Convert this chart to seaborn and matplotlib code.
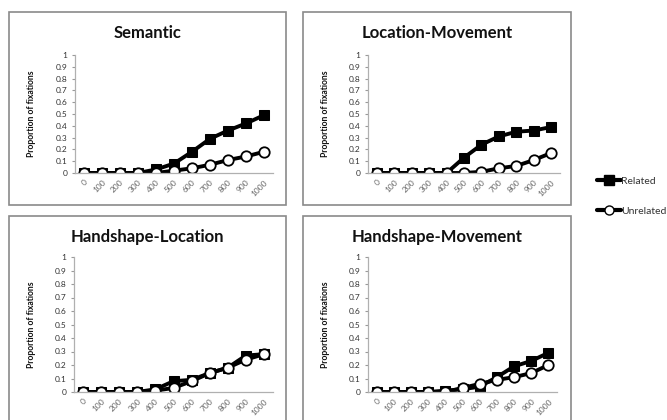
import matplotlib
matplotlib.use("Agg")
import matplotlib.pyplot as plt
import seaborn as sns
import pandas as pd
from matplotlib.patches import Rectangle
from matplotlib.lines import Line2D

sns.set_theme(style="white")
plt.rcParams["font.family"] = ["Lato", "DejaVu Sans"]

# time bins (ms)
times = ["0", "100", "200", "300", "400", "500", "600", "700", "800", "900", "1000"]

titles = ["Semantic", "Location-Movement", "Handshape-Location", "Handshape-Movement"]

semantic_related = [0, 0, 0, 0, 0.03, 0.08, 0.18, 0.29, 0.36, 0.42, 0.49]
semantic_unrelated = [0, 0, 0, 0, 0, 0.02, 0.04, 0.07, 0.11, 0.14, 0.18]

locmov_related = [0, 0, 0, 0, 0, 0.13, 0.24, 0.31, 0.35, 0.36, 0.39]
locmov_unrelated = [0, 0, 0, 0, 0, 0, 0.01, 0.04, 0.06, 0.11, 0.17]

handloc_related = [0, 0, 0, 0, 0.02, 0.08, 0.09, 0.14, 0.18, 0.27, 0.28]
handloc_unrelated = [0, 0, 0, 0, 0.01, 0.03, 0.08, 0.14, 0.18, 0.24, 0.28]

handmov_related = [0, 0, 0, 0, 0.01, 0.02, 0.04, 0.11, 0.19, 0.23, 0.29]
handmov_unrelated = [0, 0, 0, 0, 0, 0.03, 0.06, 0.09, 0.11, 0.14, 0.20]

series = [
    (semantic_related, semantic_unrelated),
    (locmov_related, locmov_unrelated),
    (handloc_related, handloc_unrelated),
    (handmov_related, handmov_unrelated),
]

W, H = 667, 420
fig = plt.figure(figsize=(W / 100, H / 100), dpi=100)


def px_rect(x0, y0, x1, y1):
    # pixel box (top-left origin) -> figure fraction
    return [x0 / W, 1 - y1 / H, (x1 - x0) / W, (y1 - y0) / H]


# panel frames
frames = [(9, 12, 286, 205), (303, 12, 571, 205), (9, 216, 286, 421), (303, 216, 571, 421)]
for x0, y0, x1, y1 in frames:
    r = px_rect(x0, y0, x1, y1)
    fig.patches.append(Rectangle((r[0], r[1]), r[2], r[3], transform=fig.transFigure,
                                 fill=False, edgecolor="#8a8a8a", linewidth=1.2))

# axes boxes: left, top(y=1), right, bottom(y=0)
axes_px = [(75, 55, 273, 173), (368, 55, 560, 173), (74, 257, 273, 392), (368, 257, 557, 392)]
title_y = [33, 33, 237, 237]
ylabel_x = [32, 325, 32, 325]

for i, (x0, y0, x1, y1) in enumerate(axes_px):
    ax = fig.add_axes(px_rect(x0, y0, x1, y1))
    rel, unrel = series[i]
    df = pd.DataFrame({"time": times * 2,
                       "prop": rel + unrel,
                       "cond": ["Related"] * 11 + ["Unrelated"] * 11})
    sns.lineplot(data=df[df.cond == "Related"], x="time", y="prop", ax=ax,
                 color="black", linewidth=2.8, marker="s", markersize=7.5,
                 markerfacecolor="black", markeredgecolor="black", sort=False)
    sns.lineplot(data=df[df.cond == "Unrelated"], x="time", y="prop", ax=ax,
                 color="black", linewidth=2.8, marker="o", markersize=7.5,
                 markerfacecolor="white", markeredgecolor="black",
                 markeredgewidth=1.3, sort=False)
    ax.set_xlim(-0.5, 10.5)
    ax.set_ylim(0, 1)
    ax.set_yticks([k / 10 for k in range(11)])
    ax.set_yticklabels(["0", "0.1", "0.2", "0.3", "0.4", "0.5", "0.6", "0.7", "0.8", "0.9", "1"])
    ax.set_xticks(range(11))
    ax.set_xticklabels(times, rotation=45, ha="right", rotation_mode="anchor")
    ax.tick_params(axis="y", labelsize=6, colors="#9a9a9a", labelcolor="#333333",
                   length=2.5, width=0.8, pad=3, left=True, direction="out")
    ax.tick_params(axis="x", labelsize=6, colors="#9a9a9a", labelcolor="#666666",
                   length=0, pad=4)
    ax.set_xlabel("")
    ax.set_ylabel("")
    for s in ["top", "right"]:
        ax.spines[s].set_visible(False)
    for s in ["left", "bottom"]:
        ax.spines[s].set_color("#b0b0b0")
        ax.spines[s].set_linewidth(0.9)
    ax.patch.set_alpha(0)
    # title centred on its frame, y label beside the axis
    fx0, _, fx1, _ = frames[i]
    fig.text(((fx0 + fx1) / 2) / W, 1 - title_y[i] / H, titles[i], ha="center", va="center",
             fontsize=12, fontweight="bold", color="#111111")
    fig.text(ylabel_x[i] / W, 1 - ((y0 + y1) / 2) / H, "Proportion of fixations",
             rotation=90, ha="center", va="center", fontsize=6.2, fontweight="bold",
             color="#111111")

# legend
handles = [
    Line2D([], [], color="black", linewidth=3, marker="s", markersize=6.5,
           markerfacecolor="black", markeredgecolor="black"),
    Line2D([], [], color="black", linewidth=3, marker="o", markersize=6.5,
           markerfacecolor="white", markeredgecolor="black"),
]
fig.legend(handles, ["Related", "Unrelated"], loc="center left",
           bbox_to_anchor=(588 / W, 1 - 196 / H), frameon=False, fontsize=7.5,
           handlelength=2.3, handletextpad=0.0, labelspacing=2.0, labelcolor="#333333")

fig.savefig("out.png", dpi=100)
